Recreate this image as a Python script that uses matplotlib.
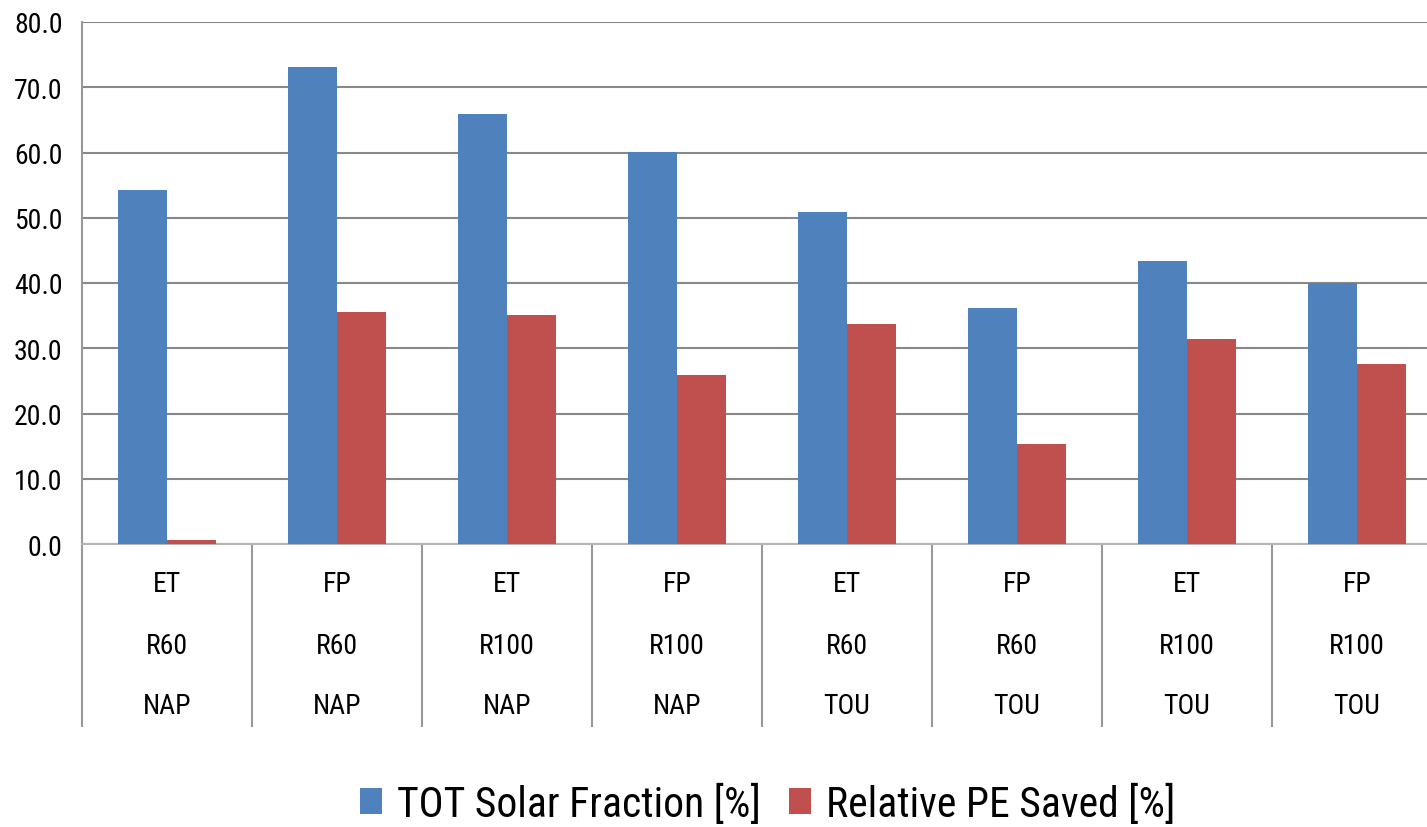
import matplotlib.pyplot as plt
import matplotlib.transforms as mtransforms
import numpy as np

# Data
systems = ["ET", "FP", "ET", "FP", "ET", "FP", "ET", "FP"]
storage = ["R60", "R60", "R100", "R100", "R60", "R60", "R100", "R100"]
tariffs = ["NAP", "NAP", "NAP", "NAP", "TOU", "TOU", "TOU", "TOU"]
solar_fraction = [54.3, 73.1, 65.9, 60.1, 50.9, 36.2, 43.4, 40.0]
pe_saved = [0.6, 35.6, 35.1, 25.9, 33.7, 15.3, 31.4, 27.6]
y_ticks = [0, 10, 20, 30, 40, 50, 60, 70, 80]

plt.rcParams['font.family'] = ['Roboto Condensed', 'Liberation Sans', 'DejaVu Sans']

BLUE = '#4F81BD'
RED = '#C0504D'
GRID = '#888888'

fig = plt.figure(figsize=(14.27, 8.28), dpi=100)
ax = fig.add_axes([82 / 1427, 1 - 545 / 828, 1360 / 1427, 522 / 828])

x = np.arange(len(systems))
w = 0.29
ax.bar(x - w / 2, solar_fraction, w, color=BLUE, label='TOT Solar Fraction [%]', zorder=3)
ax.bar(x + w / 2, pe_saved, w, color=RED, label='Relative PE Saved [%]', zorder=3)

ax.set_xlim(-0.5, len(systems) - 0.5)
ax.set_ylim(0, 80)
ax.set_yticks(y_ticks)
ax.set_yticklabels([f"{v:.1f}" for v in y_ticks], fontsize=20)
ax.tick_params(axis='y', length=0, pad=14)
ax.set_xticks([])
ax.yaxis.grid(True, color=GRID, linewidth=1.5, zorder=0)
for s in ['top', 'right']:
    ax.spines[s].set_visible(False)
ax.spines['left'].set_color('#999999')
ax.spines['left'].set_linewidth(1.5)
ax.spines['bottom'].set_color('#b5b5b5')
ax.spines['bottom'].set_linewidth(1.5)

# category table below the axis
trans = mtransforms.blended_transform_factory(ax.transData, ax.transAxes)
sep_bottom = -182 / 522
for b in np.arange(-0.5, len(systems), 1.0):
    ax.plot([b, b], [0, sep_bottom], transform=trans, color='#999999',
            linewidth=1.5, clip_on=False)
rows = [(systems, -39 / 522), (storage, -101 / 522), (tariffs, -161 / 522)]
for labels, yy in rows:
    for i, lab in enumerate(labels):
        ax.text(i, yy, lab, transform=trans, ha='center', va='center', fontsize=20)

fig.legend(loc='center', bbox_to_anchor=(0.538, 1 - 805 / 828), ncol=2, frameon=False,
           fontsize=30, handlelength=0.53, handleheight=0.6, handletextpad=0.36,
           columnspacing=0.67, borderpad=0, borderaxespad=0)

fig.savefig('out.png', dpi=100)
